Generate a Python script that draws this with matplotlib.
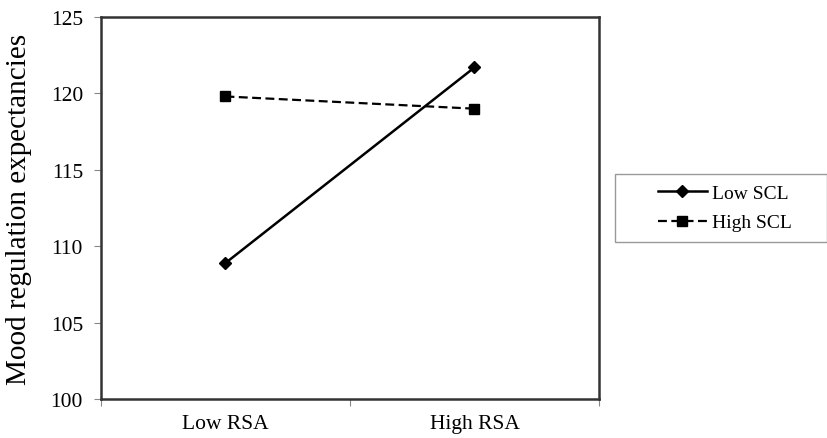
import matplotlib.pyplot as plt
from matplotlib.patches import Rectangle

# data
categories = ['Low RSA', 'High RSA']
low_scl = [108.9, 121.7]
high_scl = [119.8, 119.0]
y_ticks = [100, 105, 110, 115, 120, 125]

plt.rcParams['font.family'] = ['Liberation Serif', 'DejaVu Serif']

W, H = 828, 439
fig = plt.figure(figsize=(W / 100, H / 100), dpi=100)
ax = fig.add_axes([101 / W, 1 - 400 / H, 498 / W, 382 / H])

x = [i + 0.5 for i in range(len(categories))]
ax.plot(x, low_scl, color='black', linestyle='-', linewidth=1.8,
        marker='D', markersize=6, label='Low SCL')
ax.plot(x, high_scl, color='black', linestyle=(0, (4, 2)), linewidth=1.6,
        marker='s', markersize=7.5, label='High SCL')

ax.set_xlim(0, len(categories))
ax.set_ylim(100, 125)
ax.set_yticks(y_ticks)
ax.set_xticks(range(len(categories) + 1))
ax.set_xticklabels([])
ax.set_xticks(x, minor=True)
ax.set_xticklabels(categories, minor=True)
ax.tick_params(axis='x', which='minor', length=0, labelsize=15.5, pad=11)
ax.tick_params(axis='x', which='major', length=5, color='#888888')
ax.tick_params(axis='y', length=5, color='#888888', labelsize=15.5, pad=8)
for s in ax.spines.values():
    s.set_linewidth(1.8)
    s.set_color('#333333')

ax.set_ylabel('Mood regulation expectancies', fontsize=21)
ax.yaxis.set_label_coords(-0.139, 0.5)

# legend box is wider than its content in the reference, so draw it separately
fig.patches.append(Rectangle((615 / W, 1 - 243 / H), 212 / W, 68 / H,
                             transform=fig.transFigure, facecolor='none',
                             edgecolor='#999999', linewidth=1.0))
ax.legend(loc='center left', bbox_to_anchor=(658 / W, 1 - 209 / H),
          bbox_transform=fig.transFigure, fontsize=14, frameon=False,
          handlelength=2.5, handletextpad=0.3, borderpad=0,
          labelspacing=0.6, borderaxespad=0)

fig.savefig('out.png', dpi=100)
